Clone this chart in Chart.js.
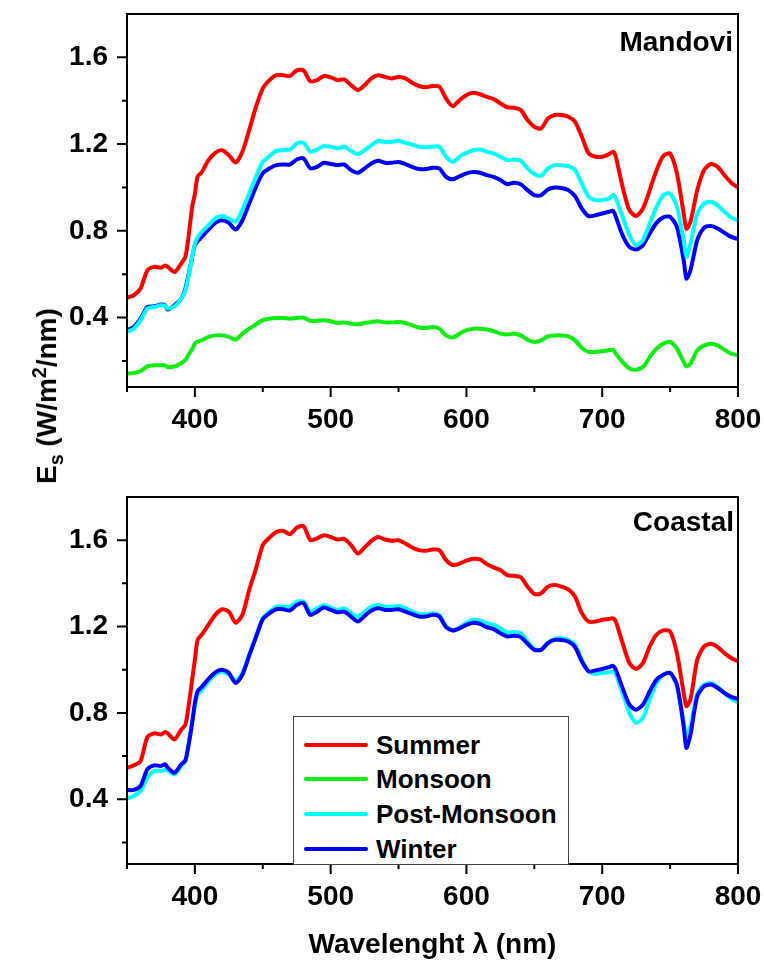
<!DOCTYPE html>
<html>

<head>
  <title>Downwelling irradiance</title>
  <meta charset="UTF-8">
  <script src="https://cdn.jsdelivr.net/npm/chart.js"></script>
  <style>
    body {
      margin: 0;
      background: white;
      font-family: "Liberation Sans", Arial, sans-serif;
    }

    .figure {
      position: relative;
      width: 764px;
      height: 967px;
      background: white;
    }

    canvas {
      position: absolute;
      left: 0;
    }

    .panel-label {
      position: absolute;
      font-weight: bold;
      font-size: 28px;
      line-height: 28px;
      text-align: right;
      white-space: nowrap;
    }

    .y-title {
      position: absolute;
      left: 48px;
      top: 396px;
      transform: translate(-50%, -50%) rotate(-90deg);
      font-weight: bold;
      font-size: 28px;
      white-space: nowrap;
    }

    .y-title sub,
    .y-title sup {
      font-size: 70%;
    }

    .legend {
      position: absolute;
      left: 293px;
      top: 716px;
      width: 274px;
      height: 147px;
      border: 1px solid #444;
      background: white;
    }

    .legend .row {
      position: absolute;
      left: 0;
      height: 30px;
      width: 100%;
    }

    .legend .swatch {
      position: absolute;
      left: 10px;
      top: 13px;
      width: 64px;
      height: 4px;
      border-radius: 2px;
    }

    .legend .name {
      position: absolute;
      left: 82px;
      top: 0;
      font-weight: bold;
      font-size: 26px;
      line-height: 30px;
      white-space: nowrap;
    }
  </style>
</head>

<body>
  <div class="figure">
    <canvas id="mandovi" width="764" height="440" style="top:0"></canvas>
    <canvas id="coastal" width="764" height="527" style="top:440px"></canvas>
    <div class="panel-label" style="right:31px; top:28px">Mandovi</div>
    <div class="panel-label" style="right:30px; top:508px">Coastal</div>
    <div class="y-title">E<sub>s</sub> (W/m<sup>2</sup>/nm)</div>
    <div class="legend" id="legend"></div>
  </div>

  <script>
    const wavelengths = [
      350, 355, 360, 365, 370, 375, 378, 380, 385, 390,
      393, 395, 398, 400, 402, 405, 410, 415, 420, 425,
      430, 435, 440, 445, 450, 455, 460, 465, 470, 475,
      480, 485, 490, 495, 500, 505, 510, 515, 520, 525,
      530, 535, 540, 545, 550, 555, 560, 565, 570, 575,
      580, 585, 590, 595, 600, 605, 610, 615, 620, 625,
      630, 635, 640, 645, 650, 655, 660, 665, 670, 675,
      680, 685, 690, 695, 700, 705, 708, 710, 715, 720,
      725, 730, 735, 740, 745, 750, 755, 760, 762, 765,
      770, 775, 780, 785, 790, 795, 800
    ];

    // Mandovi
    const mandoviSummer = [
      0.491, 0.503, 0.534, 0.618, 0.634, 0.630, 0.640, 0.634, 0.610, 0.650,
      0.680, 0.757, 0.910, 0.970, 1.050, 1.070, 1.126, 1.160, 1.172, 1.149,
      1.115, 1.165, 1.265, 1.372, 1.457, 1.495, 1.518, 1.518, 1.514, 1.540,
      1.540, 1.490, 1.495, 1.514, 1.508, 1.495, 1.498, 1.472, 1.449, 1.472,
      1.503, 1.518, 1.510, 1.503, 1.510, 1.503, 1.483, 1.468, 1.462, 1.468,
      1.465, 1.410, 1.375, 1.403, 1.426, 1.437, 1.430, 1.418, 1.408, 1.388,
      1.370, 1.368, 1.357, 1.311, 1.280, 1.272, 1.318, 1.334, 1.334, 1.326,
      1.303, 1.234, 1.157, 1.142, 1.142, 1.154, 1.165, 1.142, 1.003, 0.895,
      0.869, 0.903, 0.988, 1.080, 1.145, 1.157, 1.065, 0.880, 0.810, 0.842,
      0.988, 1.080, 1.108, 1.095, 1.057, 1.022, 1.000
    ];
    const mandoviMonsoon = [
      0.142, 0.145, 0.154, 0.175, 0.180, 0.180, 0.180, 0.172, 0.175, 0.191,
      0.205, 0.226, 0.255, 0.280, 0.290, 0.295, 0.311, 0.318, 0.318, 0.311,
      0.298, 0.326, 0.349, 0.369, 0.388, 0.395, 0.398, 0.398, 0.395, 0.398,
      0.400, 0.385, 0.385, 0.388, 0.383, 0.375, 0.378, 0.372, 0.369, 0.375,
      0.380, 0.383, 0.378, 0.378, 0.380, 0.375, 0.365, 0.354, 0.352, 0.357,
      0.349, 0.318, 0.308, 0.326, 0.342, 0.349, 0.349, 0.345, 0.338, 0.326,
      0.322, 0.326, 0.318, 0.298, 0.288, 0.295, 0.314, 0.318, 0.318, 0.314,
      0.295, 0.260, 0.242, 0.242, 0.245, 0.249, 0.252, 0.234, 0.195, 0.165,
      0.160, 0.172, 0.218, 0.257, 0.280, 0.288, 0.257, 0.195, 0.175, 0.188,
      0.249, 0.272, 0.280, 0.272, 0.252, 0.234, 0.226
    ];
    const mandoviPostMonsoon = [
      0.334, 0.349, 0.388, 0.442, 0.449, 0.457, 0.455, 0.442, 0.452, 0.488,
      0.526, 0.580, 0.680, 0.740, 0.770, 0.795, 0.826, 0.857, 0.868, 0.857,
      0.842, 0.898, 0.972, 1.049, 1.118, 1.145, 1.169, 1.172, 1.175, 1.203,
      1.206, 1.165, 1.175, 1.191, 1.188, 1.180, 1.188, 1.169, 1.154, 1.172,
      1.195, 1.215, 1.210, 1.210, 1.215, 1.206, 1.198, 1.188, 1.185, 1.188,
      1.188, 1.142, 1.118, 1.142, 1.160, 1.172, 1.175, 1.165, 1.157, 1.142,
      1.126, 1.129, 1.123, 1.088, 1.062, 1.054, 1.088, 1.103, 1.103, 1.098,
      1.080, 1.018, 0.957, 0.942, 0.942, 0.949, 0.965, 0.949, 0.865, 0.780,
      0.734, 0.757, 0.834, 0.911, 0.965, 0.972, 0.911, 0.757, 0.680, 0.742,
      0.880, 0.926, 0.934, 0.918, 0.888, 0.862, 0.846
    ];
    const mandoviWinter = [
      0.342, 0.357, 0.395, 0.449, 0.452, 0.460, 0.457, 0.437, 0.457, 0.488,
      0.534, 0.588, 0.680, 0.734, 0.752, 0.772, 0.806, 0.837, 0.849, 0.837,
      0.806, 0.849, 0.926, 1.003, 1.065, 1.088, 1.103, 1.106, 1.106, 1.129,
      1.134, 1.088, 1.095, 1.114, 1.108, 1.103, 1.106, 1.080, 1.068, 1.088,
      1.111, 1.123, 1.114, 1.114, 1.118, 1.108, 1.095, 1.085, 1.085, 1.091,
      1.088, 1.049, 1.038, 1.052, 1.065, 1.071, 1.068, 1.057, 1.049, 1.034,
      1.015, 1.022, 1.015, 0.988, 0.965, 0.965, 0.991, 1.000, 0.998, 0.988,
      0.960, 0.903, 0.868, 0.872, 0.880, 0.888, 0.892, 0.865, 0.780, 0.726,
      0.714, 0.734, 0.788, 0.837, 0.862, 0.865, 0.818, 0.665, 0.580, 0.618,
      0.757, 0.814, 0.822, 0.811, 0.791, 0.772, 0.762
    ];

    // Coastal (no monsoon curve)
    const coastalSummer = [
      0.546, 0.557, 0.577, 0.688, 0.705, 0.700, 0.711, 0.705, 0.677, 0.723,
      0.746, 0.815, 0.954, 1.046, 1.138, 1.162, 1.208, 1.254, 1.280, 1.269,
      1.218, 1.254, 1.369, 1.469, 1.577, 1.612, 1.638, 1.643, 1.628, 1.658,
      1.665, 1.600, 1.608, 1.623, 1.615, 1.603, 1.606, 1.577, 1.538, 1.566,
      1.597, 1.615, 1.603, 1.597, 1.600, 1.585, 1.566, 1.554, 1.551, 1.557,
      1.554, 1.508, 1.485, 1.492, 1.505, 1.514, 1.511, 1.489, 1.474, 1.462,
      1.438, 1.435, 1.428, 1.385, 1.351, 1.354, 1.385, 1.392, 1.385, 1.372,
      1.338, 1.262, 1.223, 1.223, 1.231, 1.235, 1.238, 1.223, 1.123, 1.031,
      1.003, 1.031, 1.108, 1.162, 1.182, 1.177, 1.077, 0.892, 0.831, 0.862,
      1.046, 1.108, 1.120, 1.105, 1.077, 1.054, 1.038
    ];
    const coastalPostMonsoon = [
      0.403, 0.415, 0.438, 0.500, 0.531, 0.531, 0.535, 0.534, 0.515, 0.554,
      0.577, 0.646, 0.754, 0.831, 0.885, 0.905, 0.946, 0.977, 0.992, 0.977,
      0.951, 0.985, 1.069, 1.154, 1.238, 1.269, 1.292, 1.292, 1.292, 1.315,
      1.315, 1.269, 1.285, 1.300, 1.288, 1.277, 1.285, 1.262, 1.246, 1.269,
      1.292, 1.300, 1.292, 1.292, 1.295, 1.285, 1.269, 1.258, 1.258, 1.262,
      1.254, 1.200, 1.182, 1.197, 1.218, 1.231, 1.228, 1.215, 1.208, 1.192,
      1.172, 1.175, 1.169, 1.131, 1.095, 1.092, 1.126, 1.143, 1.146, 1.138,
      1.115, 1.046, 0.992, 0.980, 0.985, 0.988, 0.992, 0.977, 0.892, 0.800,
      0.754, 0.777, 0.862, 0.938, 0.977, 0.985, 0.923, 0.754, 0.692, 0.738,
      0.892, 0.931, 0.938, 0.920, 0.892, 0.865, 0.849
    ];
    const coastalWinter = [
      0.443, 0.443, 0.462, 0.538, 0.557, 0.554, 0.562, 0.546, 0.523, 0.562,
      0.580, 0.638, 0.754, 0.846, 0.900, 0.920, 0.957, 0.988, 1.000, 0.985,
      0.938, 0.977, 1.065, 1.151, 1.234, 1.262, 1.280, 1.280, 1.274, 1.300,
      1.308, 1.254, 1.269, 1.288, 1.277, 1.266, 1.269, 1.246, 1.223, 1.249,
      1.274, 1.285, 1.277, 1.277, 1.280, 1.269, 1.258, 1.246, 1.246, 1.254,
      1.246, 1.197, 1.182, 1.192, 1.208, 1.218, 1.212, 1.197, 1.188, 1.169,
      1.154, 1.157, 1.151, 1.120, 1.092, 1.092, 1.123, 1.138, 1.138, 1.131,
      1.105, 1.038, 0.992, 0.997, 1.003, 1.012, 1.018, 1.000, 0.915, 0.838,
      0.815, 0.838, 0.900, 0.954, 0.977, 0.985, 0.931, 0.738, 0.638, 0.700,
      0.877, 0.923, 0.931, 0.915, 0.892, 0.874, 0.865
    ];

    const seasons = ['Summer', 'Monsoon', 'Post-Monsoon', 'Winter'];
    const seasonColors = ['#ff0000', '#11ee11', '#00ffff', '#0000ff'];

    const xMajor = [400, 500, 600, 700, 800];
    const xMinor = [350, 450, 550, 650, 750];
    const yMajor = [0.4, 0.8, 1.2, 1.6];
    const yMinor = [0.2, 0.6, 1.0, 1.4];

    const tickFont = { family: '"Liberation Sans", Arial, sans-serif', size: 28, weight: 'bold' };

    // frame box plus outward major/minor tick marks
    const axisFrame = {
      id: 'axisFrame',
      afterDraw(chart) {
        const { ctx, chartArea: a, scales: { x, y } } = chart;
        ctx.save();
        ctx.strokeStyle = '#000';
        ctx.lineWidth = 2;
        ctx.strokeRect(a.left, a.top, a.right - a.left, a.bottom - a.top);
        ctx.beginPath();
        xMajor.forEach(v => { const px = x.getPixelForValue(v); ctx.moveTo(px, a.bottom); ctx.lineTo(px, a.bottom + 10); });
        xMinor.forEach(v => { const px = x.getPixelForValue(v); ctx.moveTo(px, a.bottom); ctx.lineTo(px, a.bottom + 5); });
        yMajor.forEach(v => { const py = y.getPixelForValue(v); ctx.moveTo(a.left, py); ctx.lineTo(a.left - 10, py); });
        yMinor.forEach(v => {
          if (v < y.min) return;
          const py = y.getPixelForValue(v); ctx.moveTo(a.left, py); ctx.lineTo(a.left - 5, py);
        });
        ctx.stroke();
        ctx.restore();
      }
    };

    // stop label overhang from shrinking the plot area
    function noPadding(scale) {
      scale.paddingTop = 0;
      scale.paddingBottom = 0;
      scale.paddingLeft = 0;
      scale.paddingRight = 0;
    }

    function makeSeries(idx, values) {
      return {
        label: seasons[idx],
        data: wavelengths.map((w, i) => ({ x: w, y: values[i] })),
        borderColor: seasonColors[idx],
        borderWidth: 4,
        pointRadius: 0,
        tension: 0.25,
        borderJoinStyle: 'round',
        borderCapStyle: 'round',
        fill: false
      };
    }

    function makeChart(id, datasets, yMin, padTop, xHeight, withTitle) {
      const ctx = document.getElementById(id).getContext('2d');
      return new Chart(ctx, {
        type: 'line',
        data: { datasets: datasets },
        options: {
          responsive: false,
          animation: false,
          devicePixelRatio: 1,
          layout: { padding: { top: padTop, right: 26, left: 0, bottom: 0 } },
          plugins: { legend: { display: false }, tooltip: { enabled: false } },
          scales: {
            x: {
              type: 'linear',
              min: 350,
              max: 800,
              grid: { display: false },
              border: { display: false },
              afterBuildTicks: scale => { scale.ticks = xMajor.map(v => ({ value: v })); },
              afterFit: scale => { scale.height = xHeight; noPadding(scale); },
              ticks: { color: '#000', font: tickFont, padding: 8, maxRotation: 0 },
              title: {
                display: withTitle,
                text: 'Wavelenght λ (nm)',
                color: '#000',
                font: { family: '"Liberation Sans", Arial, sans-serif', size: 28, weight: 'bold' },
                padding: { top: 0, bottom: 5 }
              }
            },
            y: {
              min: yMin,
              max: 1.8,
              grid: { display: false },
              border: { display: false },
              afterBuildTicks: scale => { scale.ticks = yMajor.map(v => ({ value: v })); },
              afterFit: scale => { scale.width = 127; noPadding(scale); },
              ticks: { color: '#000', font: tickFont, padding: 11, callback: v => v.toFixed(1) }
            }
          }
        },
        plugins: [axisFrame]
      });
    }

    makeChart('mandovi', [
      makeSeries(0, mandoviSummer),
      makeSeries(1, mandoviMonsoon),
      makeSeries(2, mandoviPostMonsoon),
      makeSeries(3, mandoviWinter)
    ], 0.08, 14, 53, false);

    makeChart('coastal', [
      makeSeries(0, coastalSummer),
      makeSeries(3, coastalWinter),
      makeSeries(2, coastalPostMonsoon)
    ], 0.1, 57, 103, true);

    // legend inside the lower panel
    const legend = document.getElementById('legend');
    const rowCenters = [27.5, 62.3, 97.1, 131.9];
    seasons.forEach((name, i) => {
      const row = document.createElement('div');
      row.className = 'row';
      row.style.top = (rowCenters[i] - 15) + 'px';
      row.innerHTML = '<div class="swatch" style="background:' + seasonColors[i] + '"></div>' +
        '<div class="name">' + name + '</div>';
      legend.appendChild(row);
    });
  </script>
</body>

</html>
